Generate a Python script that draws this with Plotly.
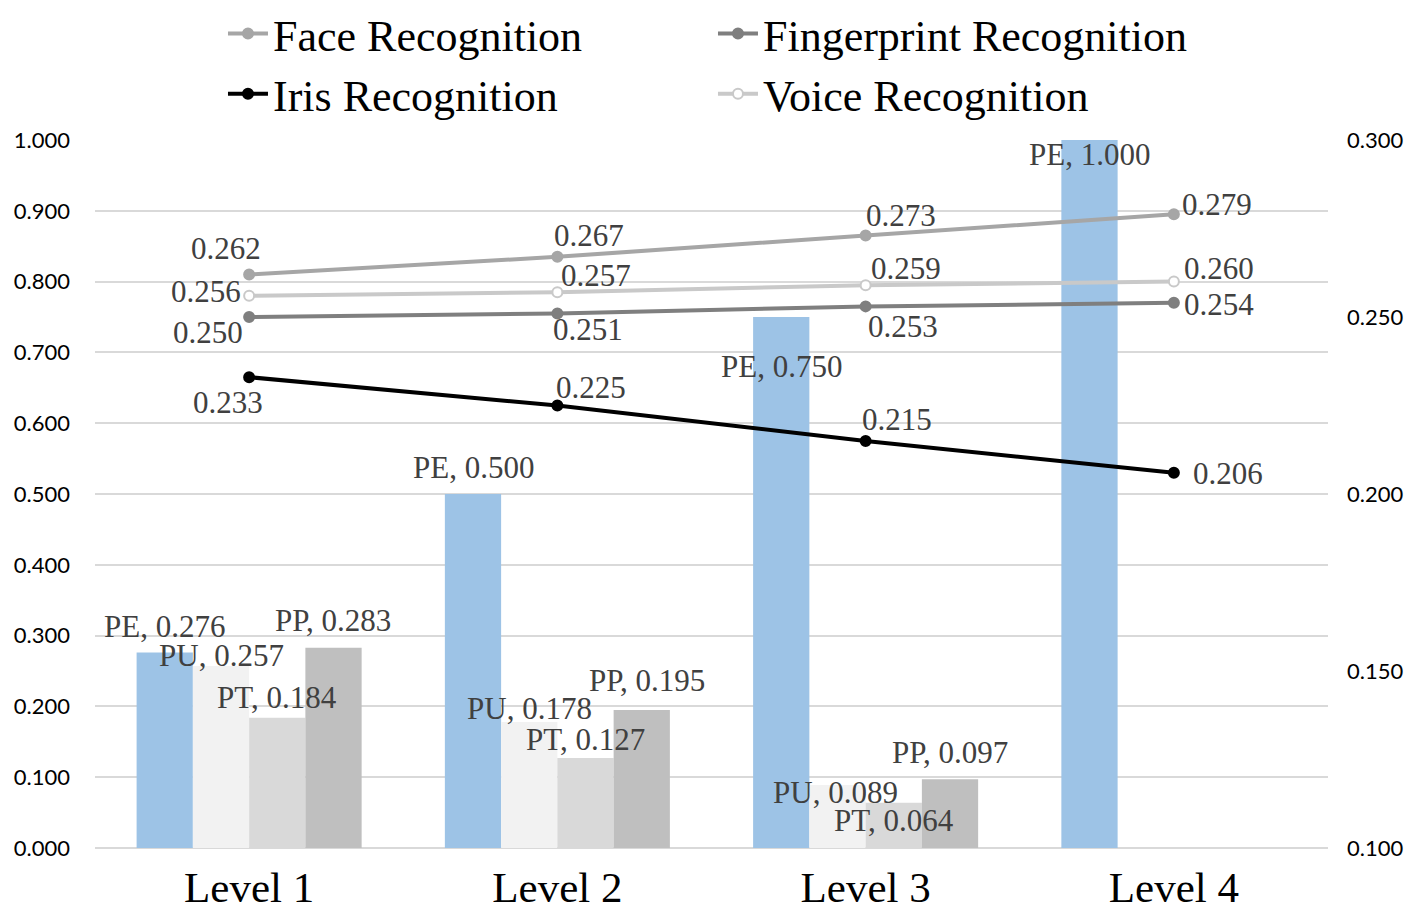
import plotly.graph_objects as go

# ---- data ----
levels = ["Level 1", "Level 2", "Level 3", "Level 4"]
pe = [0.276, 0.500, 0.750, 1.000]
pu = [0.257, 0.178, 0.089, None]
pt = [0.184, 0.127, 0.064, None]
pp = [0.283, 0.195, 0.097, None]
face = [0.262, 0.267, 0.273, 0.279]
fingerprint = [0.250, 0.251, 0.253, 0.254]
iris = [0.233, 0.225, 0.215, 0.206]
voice = [0.256, 0.257, 0.259, 0.260]
left_ticks = [0.0, 0.1, 0.2, 0.3, 0.4, 0.5, 0.6, 0.7, 0.8, 0.9, 1.0]
right_ticks = [0.10, 0.15, 0.20, 0.25, 0.30]

SERIF = "Liberation Serif, Times New Roman, serif"
SANS = "Lato, Open Sans, sans-serif"
LABEL_COLOR = "#404040"

bar_series = [
    ("PE", pe, "#9DC3E6"),
    ("PU", pu, "#F2F2F2"),
    ("PT", pt, "#D9D9D9"),
    ("PP", pp, "#BFBFBF"),
]
line_series = [
    ("Face Recognition", face, "#A6A6A6", "#A6A6A6"),
    ("Fingerprint Recognition", fingerprint, "#7F7F7F", "#7F7F7F"),
    ("Iris Recognition", iris, "#000000", "#000000"),
    ("Voice Recognition", voice, "#C9C9C9", "#FFFFFF"),
]

fig = go.Figure()
for name, vals, col in bar_series:
    fig.add_trace(go.Bar(x=levels, y=vals, name=name, marker=dict(color=col, line=dict(width=0)),
                         showlegend=False, yaxis="y"))
for name, vals, col, fill in line_series:
    fig.add_trace(go.Scatter(x=levels, y=vals, name=name, mode="lines+markers", yaxis="y2",
                             line=dict(color=col, width=4),
                             marker=dict(size=10, color=fill, line=dict(color=col, width=2))))

annotations = []
bar_offsets = [-0.273, -0.091, 0.091, 0.273]
bar_shifts = {
    "PE": [(0, 26), (0, 27), (0, -49), (0, -14)],
    "PU": [(0, 11), (0, 13), (-2, -8), (0, 0)],
    "PT": [(0, 20), (0, 19), (0, -18), (0, 0)],
    "PP": [(0, 27), (5, 29), (0, 27), (0, 0)],
}
for k, (name, vals, col) in enumerate(bar_series):
    for i, v in enumerate(vals):
        if v is None:
            continue
        dx, dy = bar_shifts[name][i]
        annotations.append(dict(x=i + bar_offsets[k], y=v, xref="x", yref="y",
                                text=f"{name}, {v:.3f}", showarrow=False,
                                xshift=dx, yshift=dy,
                                font=dict(family=SERIF, size=31, color=LABEL_COLOR)))
line_shifts = {
    "Face Recognition": [(-23, 26), (32, 21), (35, 20), (43, 10)],
    "Fingerprint Recognition": [(-41, -15), (31, -16), (37, -20), (45, -2)],
    "Iris Recognition": [(-21, -25), (34, 18), (31, 21), (54, -1)],
    "Voice Recognition": [(-43, 4), (39, 17), (40, 17), (45, 13)],
}
for name, vals, col, fill in line_series:
    for i, v in enumerate(vals):
        dx, dy = line_shifts[name][i]
        annotations.append(dict(x=i, y=v, xref="x", yref="y2",
                                text=f"{v:.3f}", showarrow=False,
                                xshift=dx, yshift=dy,
                                font=dict(family=SERIF, size=31, color=LABEL_COLOR)))

fig.update_layout(
    width=1400, height=904,
    margin=dict(l=87, r=80, t=132, b=64, autoexpand=False),
    paper_bgcolor="white", plot_bgcolor="white",
    barmode="group", bargap=0.27, bargroupgap=0,
    annotations=annotations,
    xaxis=dict(type="category", showgrid=False, showline=False, zeroline=False,
               tickfont=dict(family=SERIF, size=43, color="#000000"),
               ticks="", ticklabelstandoff=10, automargin=False),
    yaxis=dict(range=[0, 1.0], tickvals=left_ticks, tickformat=".3f",
               showgrid=True, gridcolor="#D9D9D9", gridwidth=2,
               zeroline=True, zerolinecolor="#D9D9D9", zerolinewidth=2,
               showline=False, ticks="", ticklabelstandoff=24, automargin=False,
               tickfont=dict(family=SANS, size=22, color="#000000")),
    yaxis2=dict(range=[0.10, 0.30], tickvals=right_ticks, tickformat=".3f",
                overlaying="y", side="right", showgrid=False, zeroline=False,
                showline=False, ticks="", ticklabelstandoff=18, automargin=False,
                tickfont=dict(family=SANS, size=22, color="#000000")),
    legend=dict(orientation="h", x=0.1038, y=1.2, xanchor="left", yanchor="top",
                entrywidth=435, entrywidthmode="pixels",
                font=dict(family=SERIF, size=44, color="#000000"),
                bgcolor="rgba(0,0,0,0)", itemwidth=40),
)

fig.write_html("out.html")
